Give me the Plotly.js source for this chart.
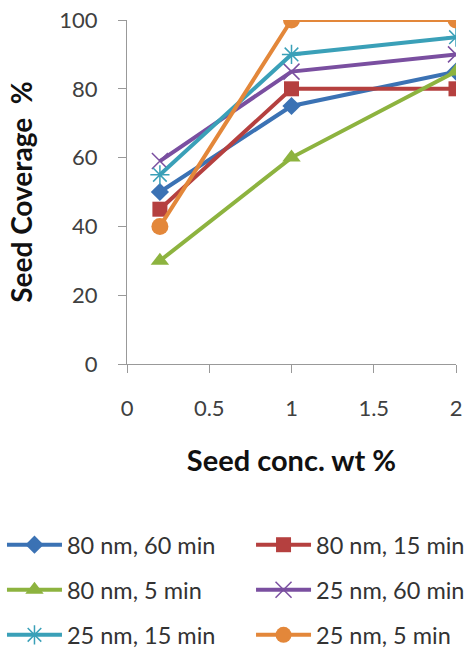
<!DOCTYPE html>
<html><head><meta charset="utf-8">
<script src="https://cdn.plot.ly/plotly-3.0.1.min.js"></script>
<style>html,body{margin:0;padding:0;background:#fff}#chart{width:473px;height:648px}</style>
</head><body><div id="chart"></div>
<script>
var seedConc = [0.2, 1, 2];
var seriesNames = ["80 nm, 60 min", "80 nm, 15 min", "80 nm, 5 min", "25 nm, 60 min", "25 nm, 15 min", "25 nm, 5 min"];
var s80nm60 = [50, 75, 85];
var s80nm15 = [45, 80, 80];
var s80nm5  = [30, 60, 85];
var s25nm60 = [59, 85, 90];
var s25nm15 = [55, 90, 95];
var s25nm5  = [40, 100, 100];
var xTicks = [0, 0.5, 1, 1.5, 2];
var yTicks = [0, 20, 40, 60, 80, 100];

var values = [s80nm60, s80nm15, s80nm5, s25nm60, s25nm15, s25nm5];
var colors = ["#3B72B4", "#B5403F", "#8DB33F", "#7A4FA0", "#3AA0B8", "#E3873A"];
var symbols = ["diamond", "square", "triangle-up", "x-thin-open", "asterisk-open", "circle"];
var sizes = [14, 15, 16, 16, 16, 17];
var legendIds = ["legend", "legend2", "legend3", "legend4", "legend5", "legend6"];
var FONT = "Lato, 'Open Sans', sans-serif";

var traces = values.map(function (v, i) {
  return {
    x: seedConc, y: v, name: seriesNames[i], type: "scatter", mode: "lines+markers",
    line: {color: colors[i], width: 4},
    marker: {symbol: symbols[i], size: sizes[i], color: colors[i],
             line: {color: colors[i], width: (i === 3 || i === 4) ? 1.5 : 0}},
    legend: legendIds[i]
  };
});

var legX = [-0.380, 0.377];
var legY = [-0.526, -0.657, -0.788];
function leg(i) {
  return {orientation: "v", x: legX[i % 2], xanchor: "left", y: legY[Math.floor(i / 2)], yanchor: "middle",
    itemwidth: 55, font: {family: FONT, size: 23.5, color: "#333"}, bgcolor: "rgba(0,0,0,0)"};
}

var layout = {
  width: 473, height: 648,
  margin: {l: 127, r: 17, t: 20, b: 284, autoexpand: false},
  paper_bgcolor: "#fff", plot_bgcolor: "#fff",
  font: {family: FONT, color: "#404040"},
  showlegend: true,
  xaxis: {
    range: [0, 2], tickvals: xTicks, ticktext: xTicks.map(String),
    showgrid: false, zeroline: false, showline: true, linecolor: "#999", linewidth: 1,
    ticks: "outside", ticklen: 8, tickcolor: "#999", ticklabelstandoff: 17,
    tickfont: {family: FONT, size: 22, color: "#404040"},
    title: {text: "Seed conc. wt %", font: {family: FONT, size: 29, color: "#111", weight: "bold"}, standoff: 30}
  },
  yaxis: {
    range: [0, 100], tickvals: yTicks, ticktext: yTicks.map(String),
    showgrid: false, zeroline: false, showline: true, linecolor: "#999", linewidth: 1,
    ticks: "outside", ticklen: 8, tickcolor: "#999", ticklabelstandoff: 16,
    tickfont: {family: FONT, size: 22, color: "#404040"},
    title: {text: "Seed Coverage  %", font: {family: FONT, size: 28, color: "#111", weight: "bold"}, standoff: 18}
  }
};
for (var i = 0; i < 6; i++) layout[legendIds[i]] = leg(i);

Plotly.newPlot("chart", traces, layout, {displayModeBar: false, staticPlot: true});
</script></body></html>
